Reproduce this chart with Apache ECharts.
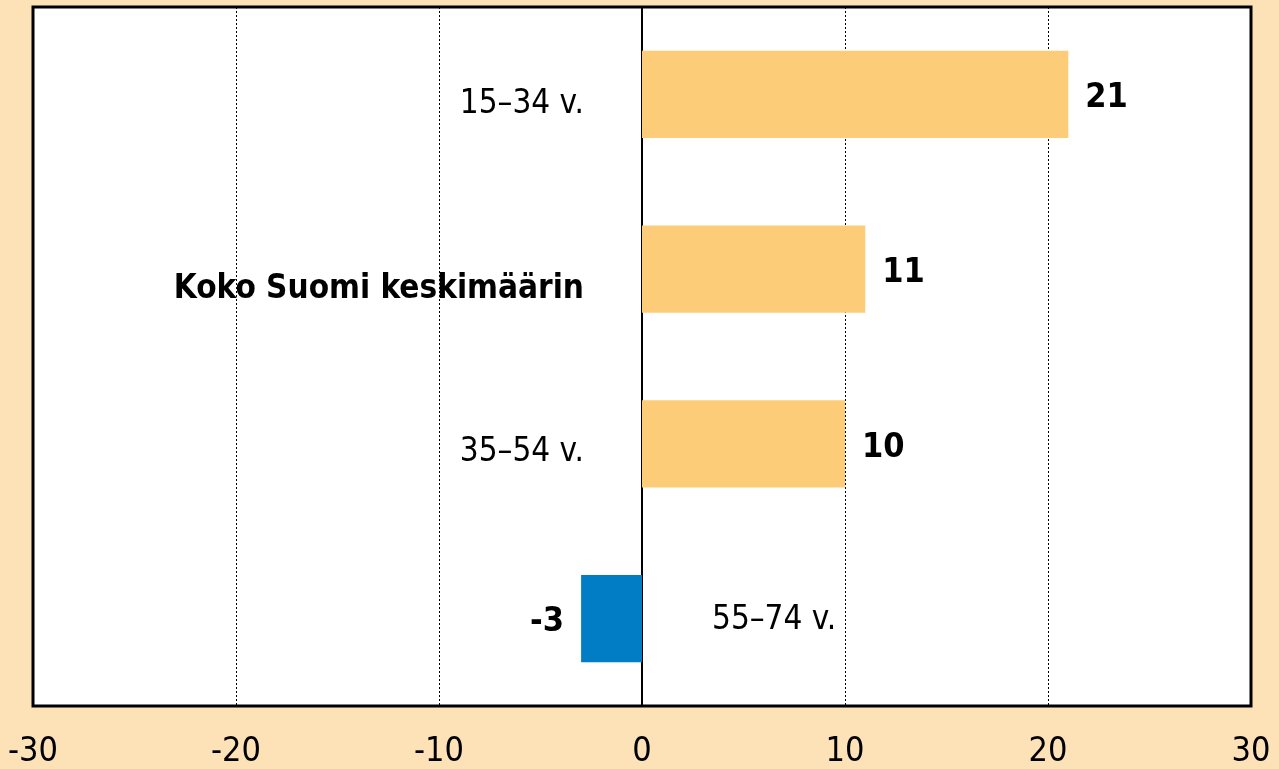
<!DOCTYPE html>
<html>
<head>
<meta charset="utf-8">
<script src="https://cdn.jsdelivr.net/npm/echarts@6/dist/echarts.min.js"></script>
<style>
html, body { margin: 0; padding: 0; background: #fde2b8; }
#chart { width: 1279px; height: 769px; }
</style>
</head>
<body>
<div id="chart"></div>
<script>
// data
var categories = ['15–34 v.', 'Koko Suomi keskimäärin', '35–54 v.', '55–74 v.'];
var values = [21, 11, 10, -3];
var boldCats = [false, true, false, false];
var xTicks = [-30, -20, -10, 0, 10, 20, 30];

// small vertical nudges for the category labels (layout only)
var catLabelDy = [10, 20, 9, 2];

var FONT = '"Liberation Sans Narrow", "DejaVu Sans Condensed", sans-serif';

var barData = values.map(function (v) {
    return {
        value: v,
        itemStyle: { color: v < 0 ? '#007dc5' : '#fdcc78' },
        label: { position: v < 0 ? 'left' : 'right' }
    };
});

var catData = categories.map(function (c, i) {
    return {
        value: [0, c],
        label: {
            position: values[i] < 0 ? 'right' : 'left',
            distance: values[i] < 0 ? 70 : 58,
            offset: [0, catLabelDy[i]],
            fontWeight: boldCats[i] ? 'bold' : 'normal'
        }
    };
});

var chart = echarts.init(document.getElementById('chart'));
var option = {
    backgroundColor: '#fde2b8',
    animation: false,
    grid: {
        left: 33, right: 28, top: 7, bottom: 62,
        show: true,
        backgroundColor: '#ffffff',
        borderColor: '#000000',
        borderWidth: 3
    },
    xAxis: {
        type: 'value',
        min: xTicks[0],
        max: xTicks[xTicks.length - 1],
        interval: 10,
        axisLine: { show: false },
        axisTick: { show: false },
        axisLabel: {
            color: '#000', fontSize: 34, fontFamily: FONT, margin: 29,
            formatter: function (v) { return String(v); }
        },
        splitLine: { show: true, lineStyle: { color: '#000', type: [2, 2], width: 1 } }
    },
    yAxis: {
        type: 'category',
        inverse: true,
        data: categories,
        axisLine: { show: true, onZero: true, lineStyle: { color: '#000', width: 2 } },
        axisTick: { show: false },
        axisLabel: { show: false },
        splitLine: { show: false }
    },
    series: [
        {
            type: 'bar',
            data: barData,
            barWidth: '50%',
            label: {
                show: true,
                color: '#000',
                fontSize: 34,
                fontWeight: 'bold',
                fontFamily: FONT,
                distance: 17,
                offset: [0, 4]
            },
            z: 3
        },
        {
            type: 'scatter',
            data: catData,
            symbolSize: 0,
            silent: true,
            itemStyle: { opacity: 1 },
            label: {
                show: true,
                color: '#000',
                fontSize: 33,
                fontFamily: FONT,
                formatter: function (p) { return p.value[1]; }
            },
            z: 4
        }
    ]
};
chart.setOption(option);
</script>
</body>
</html>
